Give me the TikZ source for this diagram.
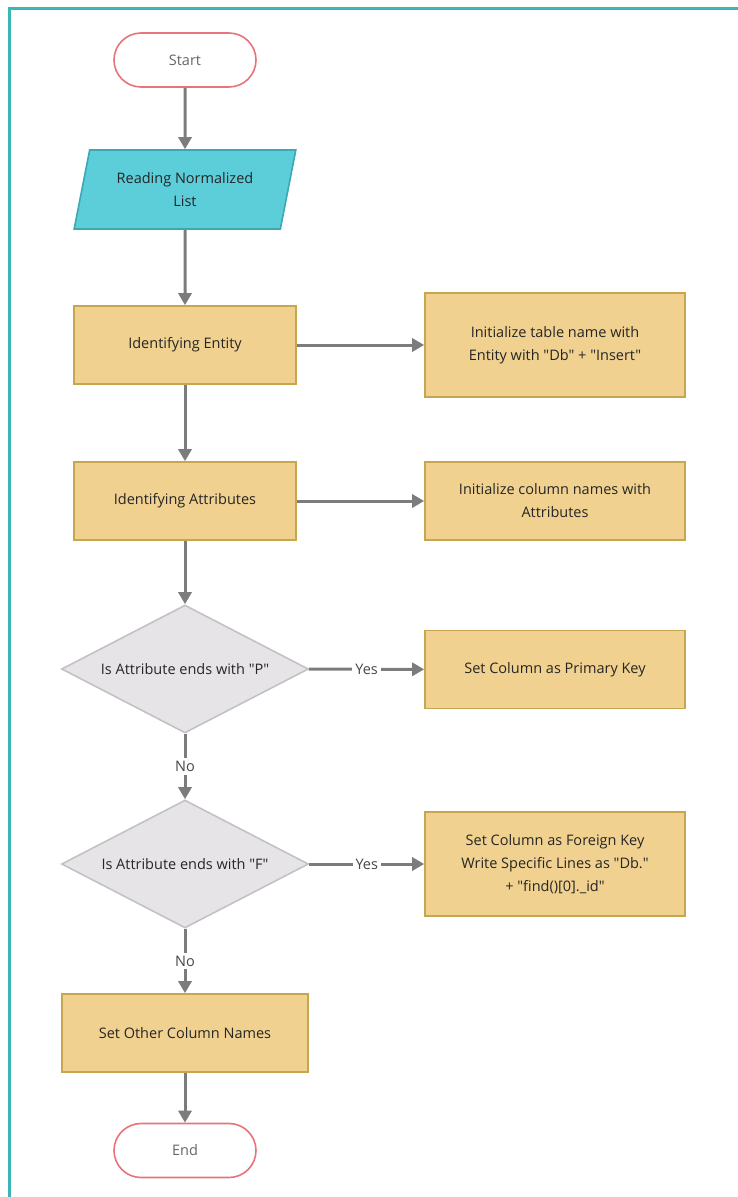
\documentclass[tikz,border=0pt]{standalone}
\usepackage{fontspec}
\setmainfont{Open Sans}[Ligatures=TeXOff]
\usetikzlibrary{shapes.geometric,arrows.meta}
\definecolor{framecol}{HTML}{3BB5B5}
\definecolor{termline}{HTML}{E8737A}
\definecolor{iofill}{HTML}{5CCEDA}
\definecolor{ioline}{HTML}{3AA9B4}
\definecolor{procfill}{HTML}{F0D18F}
\definecolor{procline}{HTML}{C9A54F}
\definecolor{decfill}{HTML}{E6E4E7}
\definecolor{decline}{HTML}{C3C1C5}
\definecolor{flow}{HTML}{7C7C7C}
\definecolor{txt}{HTML}{262626}
\tikzset{
  base/.style={font=\fontsize{14.5}{23}\selectfont, text=txt, align=center, line width=1.6pt},
  terminal/.style={base, draw=termline, fill=white, rounded corners=27pt,
    minimum width=142pt, minimum height=54pt, text=black!60},
  iobox/.style={base, draw=ioline, fill=iofill, trapezium, trapezium left angle=72,
    trapezium right angle=108, minimum width=222pt, minimum height=79pt,
    trapezium stretches=true, inner sep=0pt},
  procbox/.style={base, draw=procline, fill=procfill, minimum width=222pt, minimum height=78pt},
  sidebox/.style={base, draw=procline, fill=procfill, minimum width=260pt, minimum height=78pt},
  decision/.style={base, draw=decline, fill=decfill, diamond, aspect=1.93,
    minimum width=247pt, minimum height=128pt, inner sep=0pt},
  flowline/.style={draw=flow, line width=3pt, -{Triangle[length=12pt,width=13pt]}},
  lbl/.style={font=\fontsize{14.5}{16}\selectfont, text=txt!85, fill=white, inner sep=3pt}
}
\begin{document}
\begin{tikzpicture}[x=1pt,y=-1pt]
  \useasboundingbox (0,0) rectangle (738,1197);
  % frame
  \draw[framecol, line width=3pt] (9,1197) -- (9,8) -- (738,8);

  % nodes
  \node[terminal] (start) at (185,60) {Start};
  \node[iobox] (read) at (185,189.5) {Reading Normalized\\List};
  \node[procbox] (entity) at (185,345) {Identifying Entity};
  \node[sidebox, minimum height=104pt] (table) at (555,345) {Initialize table name with\\Entity with "Db" + "Insert"};
  \node[procbox] (attr) at (185,501) {Identifying Attributes};
  \node[sidebox] (cols) at (555,501) {Initialize column names with\\Attributes};
  \node[decision] (isp) at (185,669) {Is Attribute ends with "P"};
  \node[sidebox] (pk) at (555,669.5) {Set Column as Primary Key};
  \node[decision] (isf) at (185,864) {Is Attribute ends with "F"};
  \node[sidebox, minimum height=104pt] (fk) at (555,864) {Set Column as Foreign Key\\Write Specific Lines as "Db."\\+ "find()[0].\_id"};
  \node[procbox, minimum width=246pt] (other) at (185,1033) {Set Other Column Names};
  \node[terminal] (end) at (185,1150.5) {End};

  % connectors
  \draw[flowline] (start) -- (read);
  \draw[flowline] (read) -- (entity);
  \draw[flowline] (entity) -- (table);
  \draw[flowline] (entity) -- (attr);
  \draw[flowline] (attr) -- (cols);
  \draw[flowline] (attr) -- (isp);
  \draw[flowline] (isp) -- node[lbl] {Yes} (pk);
  \draw[flowline] (isp.south) -- node[lbl, pos=0.5] {No} (isf.north);
  \draw[flowline] (isf) -- node[lbl] {Yes} (fk);
  \draw[flowline] (isf.south) -- node[lbl, pos=0.5] {No} (other.north);
  \draw[flowline] (other) -- (end);
\end{tikzpicture}
\end{document}
